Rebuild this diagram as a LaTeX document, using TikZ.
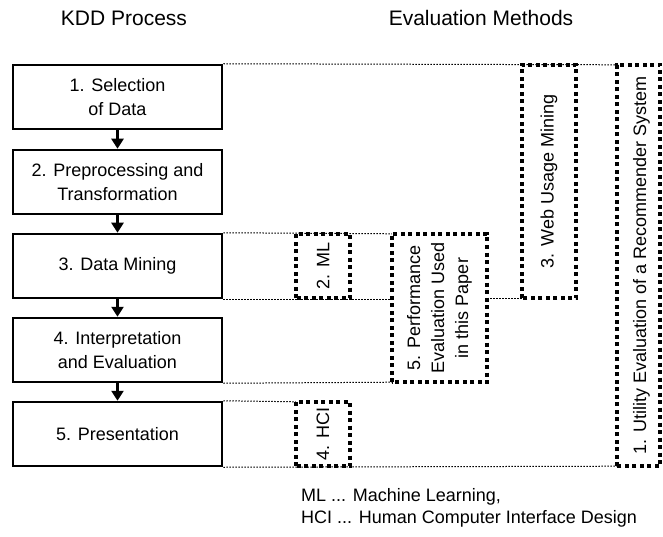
\documentclass[tikz,border=0pt]{standalone}
\usepackage{fontspec}
\setmainfont{Liberation Sans}
\usetikzlibrary{arrows.meta}
\begin{document}
\begin{tikzpicture}[x=1pt,y=-1pt,
  every node/.style={font=\fontsize{18}{24}\selectfont, inner sep=0pt},
  heading/.style={anchor=base, font=\fontsize{21}{25}\selectfont},
  stage/.style={draw, line width=2.5pt, minimum width=209pt, minimum height=64pt, align=center},
  evalbox/.style={draw, line width=4pt, dash pattern=on 4pt off 3.5pt},
  guide/.style={line width=1pt, dash pattern=on 1.5pt off 1.5pt},
  flow/.style={line width=2.5pt, -{Triangle[length=10pt,width=12pt]}},
  vtext/.style={rotate=90, align=center}]
\useasboundingbox (0,0) rectangle (663,537);

% headings
\node[heading] (hkdd) at (124,26) {KDD Process};
\node[heading] (heval) at (481,26) {Evaluation Methods};

% KDD stages
\node[stage] (b1) at (117.5,97)  {1. Selection\\of Data};
\node[stage] (b2) at (117.5,182) {2. Preprocessing and\\Transformation};
\node[stage] (b3) at (117.5,266) {3. Data Mining};
\node[stage] (b4) at (117.5,350) {4. Interpretation\\and Evaluation};
\node[stage] (b5) at (117.5,434) {5. Presentation};

\draw[flow] (b1) -- (b2);
\draw[flow] (b2) -- (b3);
\draw[flow] (b3) -- (b4);
\draw[flow] (b4) -- (b5);

% frames of the evaluation methods (text placed separately)
\path (323,266)   node[minimum width=54pt, minimum height=64pt] (ml) {}
      (323,434)   node[minimum width=54pt, minimum height=64pt] (hci) {}
      (439.5,308) node[minimum width=95pt, minimum height=148pt] (perf) {}
      (549,181.5) node[minimum width=54pt, minimum height=233pt] (web) {}
      (638.5,265.5) node[minimum width=43pt, minimum height=401pt] (util) {};

% guide lines from the stages to the methods
\draw[guide] (b1.north east) -- (util.north west);
\draw[guide] (b3.north east) -- (perf.north west);
\draw[guide] (b3.south east) -- (b3.south east -| perf.west);
\draw[guide] (perf.east |- web.south) -- (web.south west);
\draw[guide] (b4.south east) -- (perf.south west);
\draw[guide] (b5.north east) -- (hci.north west);
\draw[guide] (b5.south east) -- (util.south west);

\draw[evalbox] (ml.south west) rectangle (ml.north east);
\draw[evalbox] (hci.south west) rectangle (hci.north east);
\draw[evalbox] (perf.south west) rectangle (perf.north east);
\draw[evalbox] (web.south west) rectangle (web.north east);
\draw[evalbox] (util.south west) rectangle (util.north east);

\node[vtext] (tml) at (ml) {2. ML};
\node[vtext] (thci) at (hci) {4. HCI};
\node[vtext] (tperf) at (perf) {5. Performance\\Evaluation Used\\in this Paper};
\node[vtext] (tweb) at (web) {3. Web Usage Mining};
\node[vtext] (tutil) at ([xshift=3pt]util.center) {1. Utility Evaluation of a Recommender System};

% legend
\node[anchor=north west, align=left, font=\fontsize{18}{22}\selectfont] (legend) at (301,488)
  {ML ... Machine Learning,\\HCI ... Human Computer Interface Design};
\end{tikzpicture}
\end{document}
